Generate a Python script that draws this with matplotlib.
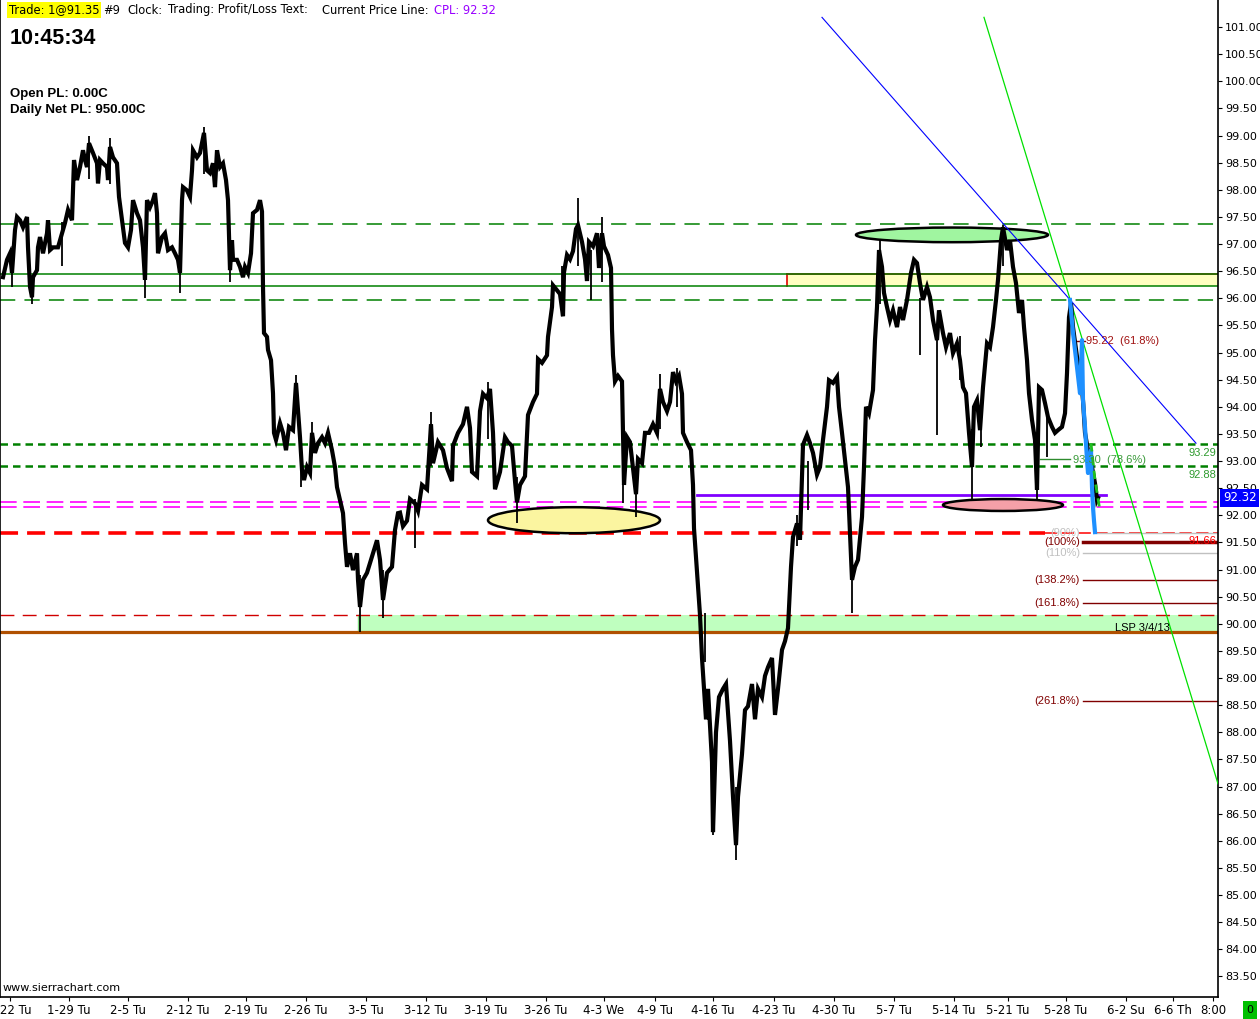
import matplotlib
matplotlib.use("Agg")
import numpy as np
import matplotlib.pyplot as plt
from matplotlib.patches import Ellipse

W, H = 1260, 1019

# price path: bar position and price
price_bars = [3, 7, 10, 12, 15, 17, 20, 23, 27, 28, 30, 32, 33, 37, 38, 40, 43, 47, 48, 50,
              53, 58, 62, 65, 68, 72, 74, 77, 80, 83, 85, 87, 89, 93, 97, 98, 100, 103, 107, 108,
              110, 113, 117, 119, 122, 125, 128, 131, 133, 137, 140, 143, 145, 147, 150, 153, 155, 157, 158, 162,
              165, 168, 172, 175, 178, 180, 182, 183, 187, 190, 192, 193, 197, 200, 202, 204, 207, 210, 213, 215,
              217, 220, 223, 226, 228, 230, 232, 233, 237, 240, 243, 245, 248, 251, 253, 257, 260, 262, 263, 264,
              267, 268, 271, 273, 274, 276, 280, 283, 286, 289, 293, 296, 298, 300, 302, 304, 307, 310, 312, 315,
              318, 322, 325, 328, 332, 335, 337, 340, 343, 345, 347, 350, 353, 357, 358, 360, 363, 367, 370, 373,
              377, 380, 383, 387, 392, 395, 398, 400, 403, 407, 410, 415, 418, 422, 427, 431, 433, 438, 443, 447,
              452, 453, 458, 463, 467, 470, 472, 477, 480, 483, 487, 490, 493, 495, 500, 505, 508, 512, 515, 517,
              520, 525, 528, 533, 537, 538, 542, 547, 548, 552, 553, 557, 560, 563, 564, 567, 570, 573, 576, 578,
              582, 585, 587, 589, 593, 597, 599, 602, 604, 608, 611, 612, 613, 615, 618, 622, 623, 624, 627, 630,
              633, 636, 638, 642, 645, 649, 653, 657, 660, 663, 667, 670, 673, 676, 679, 682, 683, 687, 691, 693,
              694, 697, 700, 702, 704, 706, 708, 712, 713, 716, 719, 723, 726, 730, 733, 736, 738, 742, 745, 748,
              752, 755, 758, 762, 765, 768, 772, 775, 778, 782, 785, 788, 791, 793, 797, 800, 803, 807, 810, 813,
              817, 820, 823, 827, 829, 833, 837, 839, 842, 845, 848, 850, 852, 855, 858, 862, 864, 866, 869, 873,
              875, 877, 879, 882, 884, 887, 890, 893, 897, 900, 903, 907, 911, 914, 917, 920, 923, 927, 930, 933,
              937, 939, 943, 946, 950, 953, 957, 960, 963, 966, 969, 972, 974, 977, 980, 983, 987, 990, 993, 996,
              998, 1001, 1003, 1007, 1010, 1013, 1016, 1019, 1022, 1024, 1027, 1029, 1032, 1035, 1037, 1039, 1042, 1045, 1048, 1052,
              1055, 1058, 1062, 1065, 1067, 1069, 1071, 1073, 1077, 1080, 1083, 1085, 1088, 1092, 1095, 1097, 1098]
price_vals = [96.39, 96.71, 96.83, 96.47, 97.26, 97.50, 97.44, 97.31, 97.50, 96.94, 96.21, 96.02, 96.39, 96.52, 96.94, 97.13, 96.83, 97.20, 97.44, 96.89,
              96.94, 96.94, 97.20, 97.39, 97.63, 97.44, 98.55, 98.18, 98.42, 98.73, 98.55, 98.42, 98.86, 98.68, 98.49, 98.12, 98.55, 98.49, 98.42, 98.18,
              98.79, 98.60, 98.49, 97.87, 97.44, 97.02, 96.94, 97.26, 97.81, 97.57, 97.44, 96.94, 96.34, 97.81, 97.68, 97.81, 97.94, 97.57, 96.83, 97.13,
              97.20, 96.89, 96.94, 96.83, 96.71, 96.47, 97.81, 98.05, 97.99, 97.87, 98.36, 98.73, 98.60, 98.68, 98.86, 99.05, 98.36, 98.31, 98.49, 98.05,
              98.73, 98.42, 98.49, 98.18, 97.81, 96.52, 97.07, 96.71, 96.71, 96.58, 96.39, 96.58, 96.47, 96.83, 97.57, 97.63, 97.81, 97.60, 96.21, 95.36,
              95.29, 95.05, 94.86, 94.25, 93.52, 93.39, 93.70, 93.52, 93.20, 93.63, 93.57, 94.44, 93.94, 93.44, 92.83, 92.65, 92.89, 92.78, 93.52, 93.15,
              93.33, 93.44, 93.33, 93.52, 93.20, 92.89, 92.52, 92.28, 92.04, 91.49, 91.05, 91.30, 90.99, 91.30, 90.81, 90.31, 90.81, 90.94, 91.12, 91.30,
              91.54, 91.18, 90.44, 90.94, 91.05, 91.73, 92.04, 92.05, 91.80, 91.90, 92.30, 92.22, 92.08, 92.56, 92.48, 93.68, 92.96, 93.35, 93.20, 92.87,
              92.63, 93.28, 93.52, 93.68, 94.00, 93.61, 92.80, 92.72, 93.92, 94.24, 94.16, 94.33, 93.52, 92.48, 92.80, 93.44, 93.35, 93.28, 92.63, 92.24,
              92.56, 92.72, 93.85, 94.09, 94.24, 94.88, 94.81, 94.95, 95.29, 95.84, 96.24, 96.15, 96.08, 95.67, 96.48, 96.80, 96.72, 96.87, 97.28, 97.35,
              97.04, 96.72, 96.32, 97.04, 96.96, 97.20, 96.56, 97.20, 96.96, 96.80, 96.56, 95.43, 94.95, 94.47, 94.57, 94.47, 93.52, 92.56, 93.44, 93.35,
              92.87, 92.39, 93.04, 92.96, 93.52, 93.52, 93.68, 93.52, 94.33, 94.09, 93.92, 94.09, 94.64, 94.47, 94.57, 94.24, 93.52, 93.35, 93.20, 92.56,
              91.76, 90.95, 90.16, 89.37, 88.80, 88.24, 88.80, 87.45, 86.16, 88.00, 88.65, 88.80, 88.89, 87.84, 86.81, 85.92, 86.81, 87.60, 88.41, 88.48,
              88.89, 88.24, 88.80, 88.65, 89.04, 89.20, 89.37, 88.32, 88.80, 89.52, 89.68, 89.92, 91.05, 91.60, 91.85, 91.55, 93.30, 93.48, 93.33, 93.15,
              92.75, 92.89, 93.39, 94.00, 94.49, 94.44, 94.55, 94.00, 93.52, 93.02, 92.52, 91.67, 90.81, 91.05, 91.18, 91.97, 92.89, 94.00, 93.88, 94.31,
              95.23, 95.84, 96.89, 96.58, 96.10, 95.84, 95.60, 95.78, 95.47, 95.84, 95.60, 95.97, 96.47, 96.71, 96.65, 96.28, 95.97, 96.21, 96.02, 95.60,
              95.23, 95.78, 95.36, 95.10, 95.36, 94.99, 95.17, 94.86, 94.36, 94.25, 93.52, 92.89, 94.00, 94.12, 93.57, 94.36, 95.17, 95.10, 95.47, 95.97,
              96.34, 97.07, 97.31, 96.89, 97.07, 96.58, 96.28, 95.73, 95.97, 95.47, 94.86, 94.25, 93.76, 93.39, 92.47, 94.36, 94.31, 94.07, 93.81, 93.63,
              93.52, 93.57, 93.63, 93.88, 94.62, 95.65, 95.91, 95.47, 94.92, 94.73, 94.12, 93.52, 93.20, 92.89, 92.59, 92.28, 92.32]

# bar ranges (wicks)
wick_bars = [12, 32, 62, 89, 110, 145, 180, 204, 230, 296, 301, 312, 360, 383, 415, 431, 488, 517,
             562, 578, 591, 602, 623, 636, 660, 677, 705, 713, 736, 797, 808, 852, 880, 920, 937, 960,
             972, 981, 1003, 1037, 1047]
wick_lows = [96.20, 95.90, 96.60, 98.20, 98.10, 96.00, 96.10, 98.30, 96.30, 93.90, 92.52, 93.10, 89.85, 90.10, 91.40, 92.90, 93.40, 91.85,
             95.95, 96.60, 95.97, 96.30, 92.23, 91.97, 93.60, 94.00, 89.30, 86.10, 85.65, 91.43, 92.10, 90.20, 95.90, 94.95, 93.48, 94.50,
             92.30, 93.26, 96.60, 92.30, 93.07]
wick_highs = [96.90, 96.30, 97.40, 99.00, 98.95, 96.90, 96.90, 99.15, 97.10, 94.58, 93.40, 93.72, 90.90, 91.00, 92.30, 93.90, 94.45, 92.70,
              96.60, 97.85, 96.90, 97.50, 93.20, 92.90, 94.60, 94.71, 90.20, 87.50, 87.00, 92.00, 93.00, 91.20, 97.07, 96.00, 95.50, 95.30,
              93.60, 94.00, 97.35, 93.40, 93.90]

# last leg overlay (blue) and small green dashed projection
blue_bars = [1070, 1073, 1077, 1080, 1082, 1083, 1085, 1087, 1088, 1091, 1092, 1093, 1094, 1095]
blue_vals = [95.97, 95.36, 94.73, 94.25, 95.23, 94.12, 93.63, 93.02, 92.78, 93.20, 92.52, 92.15, 91.90, 91.69]
proj_bars = [1091, 1095, 1100]
proj_vals = [93.33, 92.65, 92.08]

# trendlines (bar, price)
blue_trend_bars = [822, 1196]
blue_trend_vals = [101.18, 93.33]
green_trend_bars = [984, 1218]
green_trend_vals = [101.18, 87.05]

# horizontal levels
green_long_dash = [97.37, 95.97]
green_solid = [96.45, 96.23]
green_short_dash = [93.31, 92.90]
magenta_dash = [92.24, 92.16]
red_level = 91.68
red_thin = 90.16
lsp_level = 89.85
purple_level = 92.37
purple_bars = [697, 1106]

# zones
yellow_zone = (787, 96.23, 96.45)
green_zone = (358, 89.85, 90.16)

# ellipses: center bar, center price, width (bars), height (price), colour
ellipses = [(952, 97.17, 192, 0.27, "#a0f5a0"),
            (574, 91.91, 172, 0.48, "#fbf5a0"),
            (1003, 92.19, 120, 0.22, "#f5a0a8")]

# fib extension levels
fib_levels = [91.68, 91.51, 91.30, 90.81, 90.38, 88.58]
fib_labels = ["(90%)", "(100%)", "(110%)", "(138.2%)", "(161.8%)", "(261.8%)"]
fib_colors = ["#c0c0c0", "#800000", "#c0c0c0", "#800000", "#800000", "#800000"]
fib_widths = [1.0, 2.5, 1.0, 1.0, 1.0, 1.0]

# x axis date ticks (bar position)
tick_bars = [10, 69, 128, 188, 246, 306, 366, 426, 486, 546, 604, 655, 713, 774, 834, 894, 954, 1008, 1066, 1126, 1173, 1213]
tick_labels = ["1-22 Tu", "1-29 Tu", "2-5 Tu", "2-12 Tu", "2-19 Tu", "2-26 Tu", "3-5 Tu", "3-12 Tu", "3-19 Tu",
               "3-26 Tu", "4-3 We", "4-9 Tu", "4-16 Tu", "4-23 Tu", "4-30 Tu", "5-7 Tu", "5-14 Tu", "5-21 Tu",
               "5-28 Tu", "6-2 Su", "6-6 Th", "8:00"]

XMIN, XMAX = 0, 1218
YMIN, YMAX = 83.12, 101.50

fig = plt.figure(figsize=(W / 100, H / 100), dpi=100)
fig.patch.set_facecolor("white")
ax = fig.add_axes([0, 22 / H, 1218 / W, 997 / H])
ax.set_xlim(XMIN, XMAX)
ax.set_ylim(YMIN, YMAX)

# zones
ax.fill_between([yellow_zone[0], XMAX], yellow_zone[1], yellow_zone[2], color="#ffffc0", zorder=1, lw=0)
ax.plot([yellow_zone[0], XMAX], [yellow_zone[2], yellow_zone[2]], color="#e00000", lw=1.2, zorder=1.1)
ax.plot([yellow_zone[0], yellow_zone[0]], [yellow_zone[1], yellow_zone[2]], color="#e00000", lw=1.2, zorder=1.1)
ax.fill_between([green_zone[0], XMAX], green_zone[1], green_zone[2], color="#bfffbf", zorder=1, lw=0)
ax.plot([green_zone[0], green_zone[0]], [green_zone[1], green_zone[2]], color="#80e080", lw=1, zorder=1.1)

# levels
for lv in green_long_dash:
    ax.axhline(lv, color="#008000", lw=1.1, dashes=(10, 6), zorder=1.5)
for lv in green_solid:
    ax.axhline(lv, color="#008000", lw=1.1, zorder=1.5)
for lv in green_short_dash:
    ax.axhline(lv, color="#008000", lw=1.8, dashes=(3, 2), zorder=1.5)
for lv in magenta_dash:
    ax.axhline(lv, color="#ff00ff", lw=1.2, dashes=(10, 4), zorder=1.5)
ax.plot([XMIN, 1045], [red_level, red_level], color="#ff0000", lw=2.6, dashes=(5, 2.5), zorder=1.6)
ax.plot([1045, XMAX], [red_level, red_level], color="#ff0000", lw=1.1, dashes=(8, 3), zorder=1.6)
ax.axhline(red_thin, color="#d00000", lw=1.0, dashes=(10, 6), zorder=1.5)
ax.axhline(lsp_level, color="#b05000", lw=2.3, zorder=1.5)
ax.plot(purple_bars, [purple_level, purple_level], color="#8000ff", lw=2, zorder=2.5)

# ellipses
for cx, cy, ew, eh, col in ellipses:
    ax.add_patch(Ellipse((cx, cy), ew, eh, facecolor=col, edgecolor="black", lw=1.8, zorder=2))

# fib levels
for lv, lab, col, lw in zip(fib_levels, fib_labels, fib_colors, fib_widths):
    x0 = 1096 if lab == "(90%)" else 1083
    ax.plot([x0, XMAX], [lv, lv], color=col, lw=lw, zorder=1.7)
    ax.text(1080, lv, lab, color=col, fontsize=8, family="Liberation Sans", ha="right", va="center", zorder=4)
ax.plot([1075, 1085], [95.22, 95.22], color="#800000", lw=1, zorder=3)
ax.text(1086, 95.22, "95.22  (61.8%)", color="#a01010", fontsize=8, family="Liberation Sans", va="center", zorder=4)
ax.plot([1040, 1070], [93.04, 93.04], color="#2e8b2e", lw=1, zorder=3)
ax.text(1073, 93.02, "93.30  (78.6%)", color="#3a9a3a", fontsize=8, family="Liberation Sans", va="center", zorder=4)
ax.text(1216, 93.15, "93.29", color="#2e9a2e", fontsize=8, family="Liberation Sans", ha="right", va="center", zorder=4)
ax.text(1216, 92.74, "92.88", color="#2e9a2e", fontsize=8, family="Liberation Sans", ha="right", va="center", zorder=4)
ax.text(1216, 91.53, "91.66", color="#ff0000", fontsize=8, family="Liberation Sans", ha="right", va="center", zorder=4)
ax.text(1142, 89.92, "LSP 3/4/13", color="black", fontsize=8, family="Liberation Sans", ha="center", va="center", zorder=4)

# trendlines
ax.plot(blue_trend_bars, blue_trend_vals, color="#0000ff", lw=0.8, zorder=2.6)
ax.plot(green_trend_bars, green_trend_vals, color="#00e000", lw=0.9, zorder=2.6)

# price
ax.vlines(wick_bars, wick_lows, wick_highs, color="black", lw=1.3, zorder=3)
ax.plot(price_bars, price_vals, color="black", lw=3.0, zorder=3.1, solid_joinstyle="miter")
ax.plot(blue_bars, blue_vals, color="#1e90ff", lw=3, zorder=3.2)
ax.plot(proj_bars, proj_vals, color="#20c020", lw=2, dashes=(3, 2), zorder=3.2)

# axes styling
ax.spines["top"].set_visible(False)
for side in ["left", "right", "bottom"]:
    ax.spines[side].set_color("black")
    ax.spines[side].set_linewidth(1.2)
ax.yaxis.tick_right()
ax.set_yticks(np.arange(83.5, 101.01, 0.5))
ax.set_yticklabels([f"{v:.2f}" for v in np.arange(83.5, 101.01, 0.5)])
ax.tick_params(axis="y", length=3, pad=2, labelsize=8, colors="black")
ax.set_xticks(tick_bars)
ax.set_xticklabels(tick_labels)
ax.tick_params(axis="x", length=3, pad=2, labelsize=8.5, colors="black")

# current price marker
ax.annotate("92.32", xy=(1.0, 92.32), xycoords=("axes fraction", "data"), xytext=(3.5, 0),
            textcoords="offset points", color="white", fontsize=8.5, va="center", ha="left",
            bbox=dict(boxstyle="square,pad=0.25", fc="#0000ff", ec="none"), annotation_clip=False)

ax.text(0.002, 0.004, "www.sierrachart.com", transform=ax.transAxes, fontsize=8, va="bottom", ha="left", zorder=5)


def fx(px):
    return px / W


def fy(py):
    return 1 - py / H


# header texts
fig.text(fx(9), fy(10), "Trade: 1@91.35", fontsize=8.3, va="center", ha="left",
         bbox=dict(boxstyle="square,pad=0.15", fc="#ffff00", ec="none"))
fig.text(fx(103), fy(10), "#9", fontsize=8.3, va="center")
fig.text(fx(127), fy(10), "Clock:", fontsize=8.3, va="center")
fig.text(fx(168), fy(10), "Trading: Profit/Loss Text:", fontsize=8.3, va="center")
fig.text(fx(322), fy(10), "Current Price Line:", fontsize=8.3, va="center")
fig.text(fx(434), fy(10), "CPL: 92.32", fontsize=8.3, va="center", color="#9900ff")
fig.text(fx(10), fy(39), "10:45:34", fontsize=15.5, fontweight="bold", family="Liberation Sans", va="center")
fig.text(fx(10), fy(94), "Open PL: 0.00C", fontsize=9.5, fontweight="bold", family="Liberation Sans", va="center")
fig.text(fx(10), fy(110), "Daily Net PL: 950.00C", fontsize=9.5, fontweight="bold", family="Liberation Sans", va="center")

# bottom-right status box
fig.text(fx(1250), fy(1010), "0", fontsize=8, va="center", ha="center",
         bbox=dict(boxstyle="square,pad=0.35", fc="#00c000", ec="none"))

fig.savefig("out.png", dpi=100, facecolor="white")
